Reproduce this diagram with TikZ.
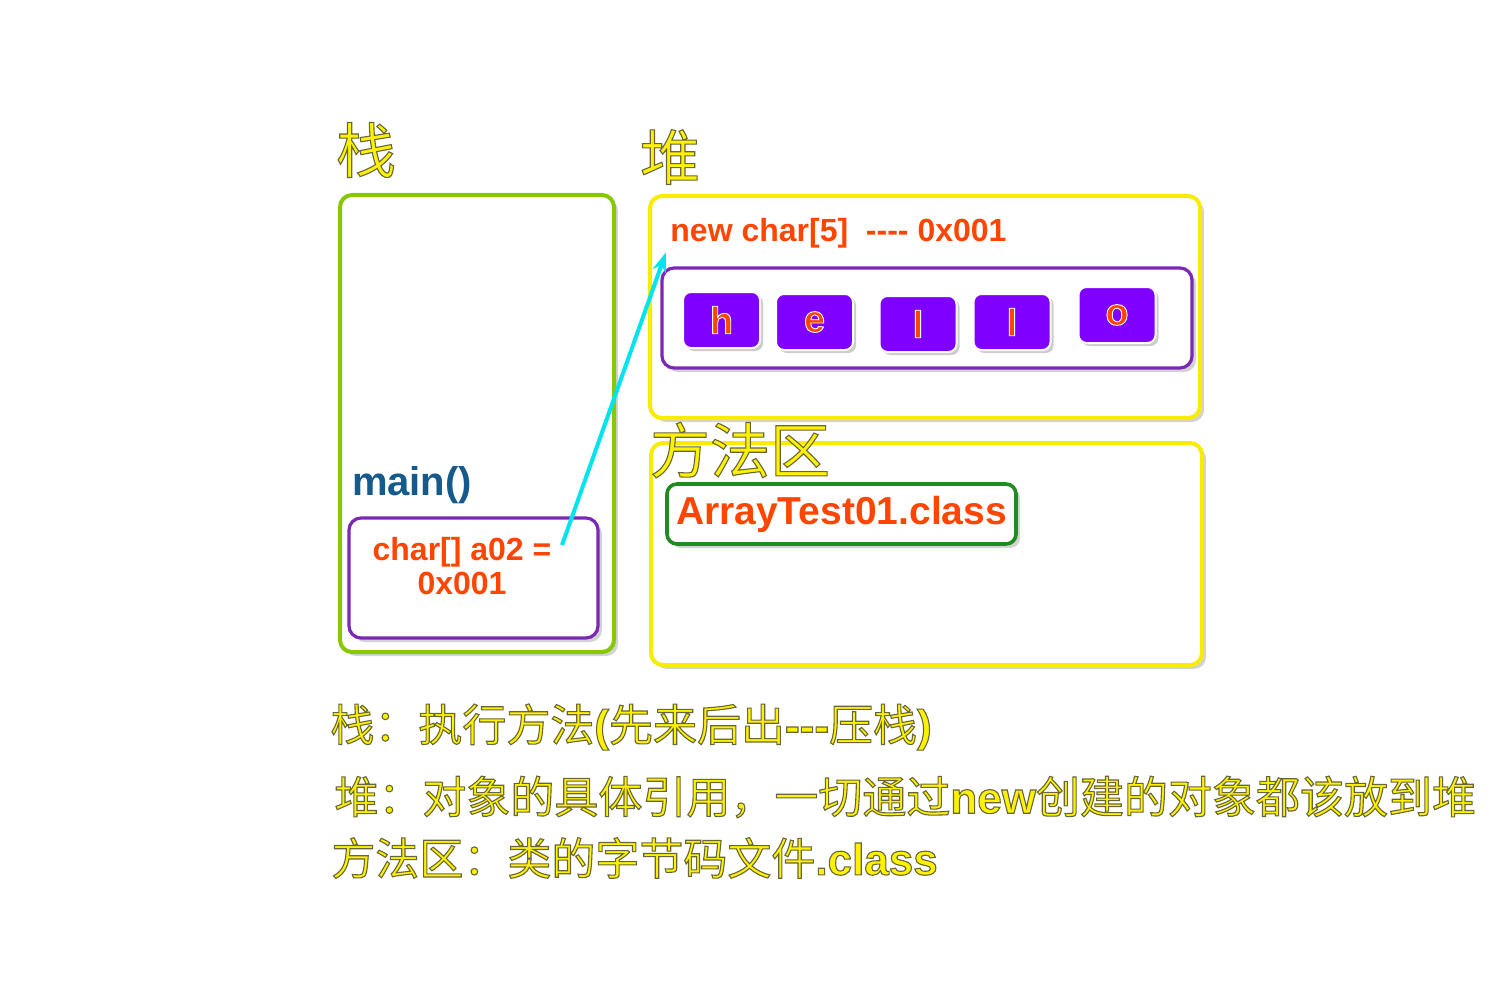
\documentclass[tikz,border=0pt]{standalone}
\usepackage{fontspec}
\setmainfont{Liberation Sans}
\newfontfamily\cjk{Noto Sans CJK SC}
\usetikzlibrary{arrows.meta, positioning, shadows}

\definecolor{stackgreen}{RGB}{136,200,0}
\definecolor{areayellow}{RGB}{250,236,0}
\definecolor{framepurple}{RGB}{125,40,180}
\definecolor{cellviolet}{RGB}{128,0,255}
\definecolor{codeorange}{RGB}{255,69,0}
\definecolor{mainblue}{RGB}{20,90,140}
\definecolor{classgreen}{RGB}{30,140,30}
\definecolor{ptrcyan}{RGB}{0,228,240}

\newcommand\zh[1]{{\cjk\mdseries #1}}
\newcommand\hy{\mbox{-}}
\newcommand\yel[1]{\special{pdf:literal direct 2 Tr 0.55 w 0.4 0.4 0.22 RG}#1\special{pdf:literal direct 0 Tr}}
\newcommand\wh[1]{\special{pdf:literal direct 2 Tr 0.45 w 1 1 1 RG}#1\special{pdf:literal direct 0 Tr}}

\tikzset{
  area/.style={draw, rounded corners=6pt, line width=2pt, fill=white,
    drop shadow={shadow xshift=2pt, shadow yshift=-2pt, opacity=0.35}},
  frame/.style={area, draw=framepurple, line width=1.6pt},
  cell/.style={draw=white, line width=1pt, fill=cellviolet, rounded corners=4pt,
    minimum width=38.5pt, minimum height=28pt, text=codeorange,
    font=\fontsize{19}{21}\selectfont\bfseries,
    drop shadow={shadow xshift=1.5pt, shadow yshift=-1.5pt, opacity=0.4}},
  title/.style={text=yellow, font=\fontsize{30}{34}\selectfont, inner sep=0pt},
  code/.style={text=codeorange, font=\fontsize{16}{17}\selectfont\bfseries, inner sep=2pt},
  note/.style={text=yellow, font=\fontsize{22}{26}\selectfont\bfseries, inner sep=0pt, anchor=west},
  ptr/.style={-{Stealth[length=10pt,width=7pt]}, draw=ptrcyan, line width=2pt}
}

\begin{document}
\begin{tikzpicture}[x=0.5pt, y=-0.5pt]
\useasboundingbox (0,0) rectangle (1487,1000);

\node[title] (stacktitle) at (366,150) {\yel{\zh{栈}}};
\node[title] (heaptitle) at (670,157) {\yel{\zh{堆}}};

\node[area, draw=stackgreen, minimum width=137pt, minimum height=228.5pt] (stack) at (477,423.5) {};
\node[area, draw=areayellow, minimum width=275pt, minimum height=111pt] (heap) at (925,307) {};
\node[area, draw=areayellow, minimum width=275.5pt, minimum height=111pt] (method) at (926.5,554) {};
\node[title] (methodtitle) at (740,450) {\yel{\zh{方法区}}};

\node[code, anchor=west] (newtxt) at (666,233) {new char[5]\ \ \hy\hy\hy\hy\ 0x001};
\node[frame, minimum width=265pt, minimum height=50pt] (arrframe) at (927,318) {};
\node[cell] (c1) at (721.5,320) {\wh{h}};
\node[cell] (c2) at (814.5,322) {\wh{e}};
\node[cell] (c3) at (918,324) {\wh{l}};
\node[cell] (c4) at (1012,322) {\wh{l}};
\node[cell] (c5) at (1117,315) {\wh{o}};

\node[area, draw=classgreen, line width=1.8pt, rounded corners=5pt, minimum width=174.5pt, minimum height=30pt,
  text=codeorange, font=\fontsize{19.5}{22}\selectfont\bfseries, inner sep=0pt] (classbox) at (841.5,514) {ArrayTest01.class};

\node[text=mainblue, font=\fontsize{20}{22}\selectfont\bfseries] (mainlbl) at (412,485) {main()};
\node[frame, minimum width=124.5pt, minimum height=60pt] (mainframe) at (473.5,578) {};
\node[code, align=center] (reftxt) at (462,566) {char[] a02 =\\0x001};

\coordinate (ptrtail) at (562,545);
\draw[ptr] (ptrtail) -- (newtxt.south west);

\node[note] (note1) at (330,727) {\yel{\zh{栈：执行方法}(\zh{先来后出}\hy\hy\hy\zh{压栈})}};
\node[note] (note2) at (334,797) {\yel{\zh{堆：对象的具体引用，一切通过}new\zh{创建的对象都该放到堆}}};
\node[note] (note3) at (331,858) {\yel{\zh{方法区：类的字节码文件}.class}};
\end{tikzpicture}
\end{document}
